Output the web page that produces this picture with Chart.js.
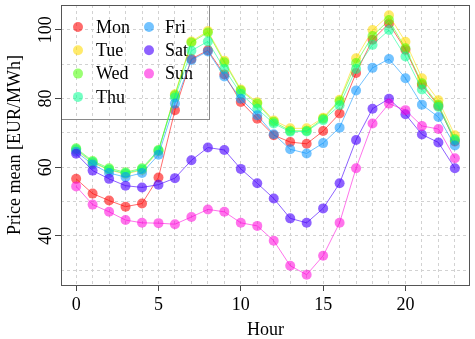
<!DOCTYPE html>
<html lang="en">
<head>
<meta charset="UTF-8">
<title>Price mean by hour</title>
<script src="https://cdn.jsdelivr.net/npm/chart.js"></script>
<style>
  html, body { margin: 0; padding: 0; background: #fff; }
  #wrap { width: 475px; height: 339px; }
</style>
</head>
<body>
<div id="wrap"><canvas id="chart" width="475" height="339"></canvas></div>
<script>
// data
const hours = [0,1,2,3,4,5,6,7,8,9,10,11,12,13,14,15,16,17,18,19,20,21,22,23];
const days = ['Mon', 'Tue', 'Wed', 'Thu', 'Fri', 'Sat', 'Sun'];
const mon = [56.6,52.3,50.3,48.5,49.4,57.0,76.6,91.5,94.0,87.0,79.0,74.1,69.3,67.3,66.8,70.5,75.6,87.4,97.1,101.8,94.2,84.0,77.8,67.5];
const tue = [65.0,61.3,59.2,58.0,59.2,64.6,81.2,96.6,99.6,91.0,82.6,78.9,73.6,71.3,71.3,74.4,79.6,91.7,99.9,104.2,96.5,85.9,79.5,69.3];
const wed = [65.5,61.8,59.7,58.5,59.7,65.0,80.9,96.3,99.2,90.5,82.3,78.5,73.2,70.6,70.6,74.1,79.2,90.3,98.2,102.8,94.6,84.4,78.2,68.2];
const thu = [65.2,61.5,59.3,58.2,59.4,64.8,80.3,93.9,96.6,88.6,81.4,77.0,72.7,70.3,70.4,73.7,78.0,88.6,95.6,99.9,92.2,82.6,77.5,67.8];
const fri = [64.5,60.8,58.3,57.1,58.3,63.6,78.5,91.2,93.7,86.4,79.9,75.1,69.6,65.2,64.0,67.0,71.5,82.3,88.9,91.5,85.9,78.2,74.6,66.3];
const sat = [63.9,59.0,56.6,54.6,54.1,54.9,56.8,62.0,65.7,65.0,59.5,55.3,50.9,45.1,43.8,48.0,55.3,67.9,77.0,79.9,75.4,69.5,67.2,59.7];
const sun = [54.4,49.1,47.0,44.6,43.8,43.7,43.4,45.5,47.7,47.0,43.8,42.9,38.6,31.3,28.7,34.2,43.8,59.7,72.7,78.5,76.6,72.0,71.1,62.6];
const series = [mon, tue, wed, thu, fri, sat, sun];
const yGridTicks = [30, 40, 50, 60, 70, 80, 90, 100];
const yLabelTicks = [40, 60, 80, 100];

const colors = ['rgba(255,0,0,0.58)', 'rgba(255,219,0,0.58)', 'rgba(73,255,0,0.55)', 'rgba(0,255,146,0.55)',
                'rgba(0,146,255,0.55)', 'rgba(73,0,255,0.62)', 'rgba(255,0,219,0.55)'];
const FONT = "'Liberation Serif', 'Times New Roman', serif";

const datasets = days.map((d, i) => ({
  label: d,
  data: hours.map((h, j) => ({ x: h, y: series[i][j] })),
  borderColor: colors[i],
  backgroundColor: colors[i],
  borderWidth: 1,
  pointRadius: 5,
  pointBorderWidth: 0,
  pointHoverRadius: 5,
  tension: 0,
  order: 7 - i
}));

// legend, frame, rotated y labels and axis titles
const decor = {
  id: 'decor',
  beforeDatasetsDraw(chart) {
    const { ctx, chartArea: ca } = chart;
    ctx.save();
    ctx.strokeStyle = '#8a8a8a';
    ctx.lineWidth = 1;
    ctx.strokeRect(ca.left + 0.5, ca.top + 0.5, 148, 114);
    ctx.font = '18px ' + FONT;
    ctx.textBaseline = 'middle';
    days.forEach((d, i) => {
      const col = i < 4 ? 0 : 1;
      const row = i < 4 ? i : i - 4;
      const y = ca.top + 22 + row * 23.3;
      const mx = ca.left + (col ? 88 : 17);
      ctx.beginPath();
      ctx.fillStyle = colors[i];
      ctx.arc(mx, y, 5, 0, Math.PI * 2);
      ctx.fill();
      ctx.fillStyle = '#000';
      ctx.fillText(d, ca.left + (col ? 104 : 35), y + 1);
    });
    ctx.restore();
  },
  afterDatasetsDraw(chart) {
    const { ctx, chartArea: ca } = chart;
    ctx.save();
    ctx.strokeStyle = '#555';
    ctx.lineWidth = 1;
    ctx.strokeRect(ca.left + 0.5, ca.top + 0.5, ca.right - ca.left - 1, ca.bottom - ca.top);
    ctx.restore();
  },
  afterDraw(chart) {
    const { ctx, chartArea: ca } = chart;
    const yScale = chart.scales.y;
    ctx.save();
    ctx.fillStyle = '#000';
    ctx.font = '18px ' + FONT;
    ctx.textAlign = 'center';
    ctx.textBaseline = 'alphabetic';
    yLabelTicks.forEach(v => {
      const py = yScale.getPixelForValue(v);
      ctx.save();
      ctx.translate(51, py);
      ctx.rotate(-Math.PI / 2);
      ctx.fillText(String(v), 0, 0);
      ctx.restore();
    });
    ctx.save();
    ctx.translate(20, (ca.top + ca.bottom) / 2);
    ctx.rotate(-Math.PI / 2);
    ctx.fillText('Price mean [EUR/MWh]', 0, 0);
    ctx.restore();
    ctx.textBaseline = 'middle';
    ctx.fillText('Hour', (ca.left + ca.right) / 2, 330);
    ctx.restore();
  }
};

new Chart(document.getElementById('chart'), {
  type: 'line',
  data: { datasets },
  options: {
    responsive: false,
    animation: false,
    devicePixelRatio: 1,
    layout: { padding: { top: 3, right: 3, left: 0, bottom: 0 } },
    plugins: { legend: { display: false }, tooltip: { enabled: false } },
    scales: {
      x: {
        type: 'linear',
        min: -0.92,
        max: 23.92,
        afterBuildTicks: s => { s.ticks = hours.map(v => ({ value: v })); },
        afterFit: s => { s.height = 54; },
        ticks: {
          autoSkip: false,
          maxRotation: 0,
          padding: 3,
          color: '#000',
          font: { family: FONT, size: 18 },
          callback: v => (v % 5 === 0 ? String(v) : '')
        },
        grid: {
          color: '#d2d2d2',
          lineWidth: 1,
          tickLength: 6,
          tickBorderDash: [],
          tickColor: c => (c.tick && c.tick.value % 5 === 0 ? '#444' : 'rgba(0,0,0,0)')
        },
        border: { display: false, dash: [3, 3] }
      },
      y: {
        min: 25.7,
        max: 107.2,
        afterBuildTicks: s => { s.ticks = yGridTicks.map(v => ({ value: v })); },
        afterFit: s => { s.width = 61; },
        ticks: { display: false },
        grid: {
          color: '#d2d2d2',
          lineWidth: 1,
          tickLength: 6,
          tickBorderDash: [],
          tickColor: c => (c.tick && c.tick.value % 20 === 0 ? '#444' : 'rgba(0,0,0,0)')
        },
        border: { display: false, dash: [3, 3] }
      }
    }
  },
  plugins: [decor]
});
</script>
</body>
</html>
